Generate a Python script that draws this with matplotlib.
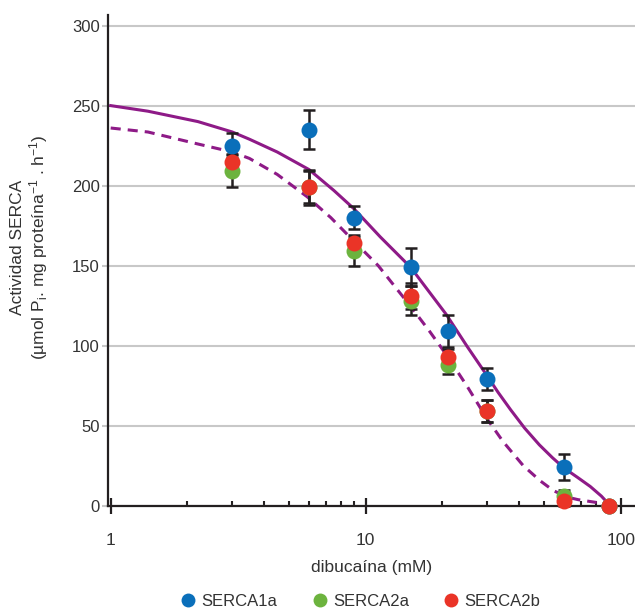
import numpy as np
import matplotlib
matplotlib.use("Agg")
import matplotlib.pyplot as plt
from matplotlib.lines import Line2D

plt.rcParams['font.family'] = ['Liberation Sans', 'DejaVu Sans']
plt.rcParams['mathtext.fontset'] = 'custom'
plt.rcParams['mathtext.rm'] = 'Liberation Sans'
plt.rcParams['mathtext.it'] = 'Liberation Sans:italic'

# dibucaina concentration (mM)
conc = [3, 6, 9, 15, 21, 30, 60, 90]

serca1a = [225, 235, 180, 149, 109, 79, 24, 0]
serca1a_err = [8, 12, 7, 12, 10, 7, 8, 0]
serca2a = [209, 199, 159, 128, 88, 59, 6, 0]
serca2a_err = [10, 11, 9, 9, 6, 7, 4, 0]
serca2b = [215, 199, 164, 131, 93, 59, 3, 0]
serca2b_err = [5, 10, 5, 8, 5, 7, 3, 0]

# fitted curves
fit1_x = [1, 1.4, 2.2, 3, 3.5, 4.5, 6, 7.5, 9, 11.4, 15, 20.7, 25, 30, 33, 37, 42, 48, 54, 60, 68, 76, 84, 91]
fit1_y = [250, 246.5, 240, 233.5, 229, 221, 210, 197, 185.5, 168, 149, 119.5, 99.5, 81, 71, 60, 48.5, 38, 30, 23.5, 17.5, 12, 6, 0]
fit2_x = [1, 1.4, 2.2, 3, 3.5, 4.5, 5.9, 7.3, 8.9, 11.2, 15, 17.8, 20.7, 25, 30, 34.6, 41.5, 48.4, 54.4, 61.6, 68, 80.5]
fit2_y = [236, 233.5, 226, 221, 217, 207, 193, 180, 166, 150, 124.6, 109, 94.4, 74.6, 54, 40, 25, 15.5, 9.5, 5.4, 3.8, 2]

blue = "#0a6fba"
green = "#6cb33e"
red = "#ea3427"
purple = "#8e1a87"
grid = "#c8c8c8"
ink = "#231f20"

fig = plt.figure(figsize=(6.35, 6.09), dpi=100)
ax = fig.add_axes([0.1706, 0.1696, 0.8294, 0.806])

ax.plot(fit1_x, fit1_y, color=purple, lw=2.2, zorder=2, solid_joinstyle='round')
ax.plot(fit2_x, fit2_y, color=purple, lw=2.2, zorder=2, linestyle=(0, (3.3, 2.3)))

for vals, err in [(serca1a, serca1a_err), (serca2a, serca2a_err), (serca2b, serca2b_err)]:
    ax.errorbar(conc, vals, yerr=err, fmt='none', ecolor=ink, elinewidth=1.8,
                capsize=4, capthick=1.8, zorder=3, clip_on=False)

for vals, c, z in [(serca1a, blue, 4), (serca2a, green, 5), (serca2b, red, 6)]:
    ax.plot(conc, vals, 'o', color=c, ms=11.5, mec='none', zorder=z, clip_on=False)

ax.set_xscale('log')
ax.set_xlim(0.979, 113.8)
ax.set_ylim(0, 306.7)

ax.set_yticks([0, 50, 100, 150, 200, 250, 300])
ax.yaxis.grid(True, color=grid, lw=1.5)
ax.set_axisbelow(True)

for s in ['top', 'right']:
    ax.spines[s].set_visible(False)
for s in ['left', 'bottom']:
    ax.spines[s].set_linewidth(1.6)
    ax.spines[s].set_color(ink)

ax.tick_params(axis='y', length=4, width=1.5, color=grid, labelsize=12, pad=2, labelcolor="#333333")
ax.set_xticks([1, 10, 100])
ax.set_xticklabels(['1', '10', '100'])
ax.tick_params(axis='x', which='major', direction='inout', length=12, width=1.6,
               color=ink, labelsize=12.5, pad=14, labelcolor="#333333")
ax.tick_params(axis='x', which='minor', direction='in', length=3.6, width=1.5, color=ink)

ax.set_xlabel("dibucaína (mM)", fontsize=12.5, color="#333333", labelpad=8)
ax.set_ylabel("Actividad SERCA\n(µmol P$_\\mathrm{i}$. mg proteína$^{-1}$ . h$^{-1}$)",
              fontsize=12.5, color="#333333", linespacing=1.15)
ax.yaxis.set_label_coords(-0.11, 0.527)

handles = [Line2D([], [], marker='o', ls='none', color=c, ms=10, mec='none') for c in (blue, green, red)]
fig.legend(handles, ['SERCA1a', 'SERCA2a', 'SERCA2b'], loc='center', bbox_to_anchor=(0.567, 0.012),
           ncol=3, frameon=False, fontsize=12, handletextpad=0.3, columnspacing=2.05,
           handlelength=1.0, labelcolor="#333333", borderaxespad=0)

fig.savefig("out.png", dpi=100)
